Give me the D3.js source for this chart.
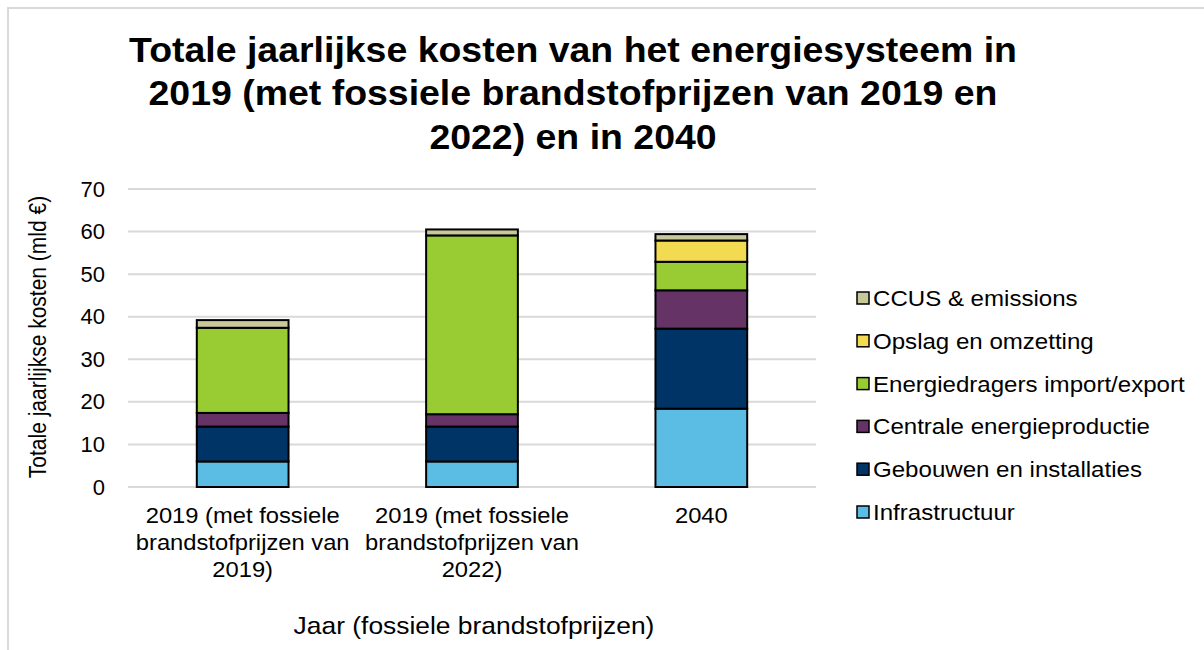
<!DOCTYPE html>
<html>
<head>
<meta charset="utf-8">
<script src="https://cdn.jsdelivr.net/npm/d3@7"></script>
<style>
  html, body { margin: 0; padding: 0; background: #fff; }
  svg { display: block; font-family: "Liberation Sans", Arial, sans-serif; }
</style>
</head>
<body>
<svg id="chart" width="1204" height="650"></svg>
<script>
// Categories (x axis), each split over three label lines
const categories = [
  "2019 (met fossiele brandstofprijzen van 2019)",
  "2019 (met fossiele brandstofprijzen van 2022)",
  "2040"
];
const categoryLines = [
  ["2019 (met fossiele", "brandstofprijzen van", "2019)"],
  ["2019 (met fossiele", "brandstofprijzen van", "2022)"],
  ["2040"]
];

// Stacked series, bottom to top (mld €)
const infrastructuur      = [6.0, 6.0, 18.4];
const gebouwen            = [8.2, 8.2, 18.8];
const centrale            = [3.2, 2.9, 9.0];
const energiedragers      = [20.0, 42.0, 6.7];
const opslag              = [0.0, 0.0, 5.0];
const ccus                = [1.8, 1.4, 1.5];

const seriesNames = [
  "Infrastructuur",
  "Gebouwen en installaties",
  "Centrale energieproductie",
  "Energiedragers import/export",
  "Opslag en omzetting",
  "CCUS & emissions"
];
const seriesColors = ["#5bbde4", "#003366", "#663366", "#99cc33", "#f2db50", "#c8c99a"];
const yTicks = [0, 10, 20, 30, 40, 50, 60, 70];

const titleLines = [
  "Totale jaarlijkse kosten van het energiesysteem in",
  "2019 (met fossiele brandstofprijzen van 2019 en",
  "2022) en in 2040"
];

const seriesValues = [infrastructuur, gebouwen, centrale, energiedragers, opslag, ccus];
const rows = categories.map((c, i) => {
  const r = { category: c };
  seriesNames.forEach((s, k) => { r[s] = seriesValues[k][i]; });
  return r;
});

const svg = d3.select("#chart");

// slightly wide lettering, as in the original export
function wideText(parent, x, y, sx) {
  return parent.append("text")
    .attr("transform", `translate(${x},${y}) scale(${sx},1)`)
    .attr("fill", "#000");
}

// chart frame
svg.append("path")
  .attr("d", "M8,650 V8 H1204")
  .attr("fill", "none")
  .attr("stroke", "#d9d9d9")
  .attr("stroke-width", 2);

const plot = { left: 128, right: 816, top: 189, bottom: 487 };

const x = d3.scaleBand()
  .domain(categories)
  .range([plot.left, plot.right])
  .paddingInner(0.6)
  .paddingOuter(0.3);

const y = d3.scaleLinear()
  .domain([0, 70])
  .range([plot.bottom, plot.top]);

// gridlines
svg.append("g")
  .selectAll("line")
  .data(yTicks)
  .join("line")
  .attr("x1", plot.left)
  .attr("x2", plot.right)
  .attr("y1", d => y(d))
  .attr("y2", d => y(d))
  .attr("stroke", "#d9d9d9")
  .attr("stroke-width", 2);

// y axis labels
const yAxis = svg.append("g")
  .attr("transform", `translate(${plot.left},0)`)
  .call(d3.axisLeft(y).tickValues(yTicks).tickSize(0).tickPadding(23));
yAxis.select(".domain").remove();
yAxis.selectAll("text")
  .attr("font-size", 22)
  .attr("fill", "#000")
  .attr("font-family", "Liberation Sans, Arial, sans-serif");

// stacked bars
const stack = d3.stack().keys(seriesNames);
const stacked = stack(rows);

svg.append("g")
  .selectAll("g")
  .data(stacked)
  .join("g")
  .attr("fill", (d, i) => seriesColors[i])
  .selectAll("rect")
  .data(d => d.filter(p => p[1] - p[0] > 0))
  .join("rect")
  .attr("x", d => x(d.data.category))
  .attr("width", x.bandwidth())
  .attr("y", d => y(d[1]))
  .attr("height", d => y(d[0]) - y(d[1]))
  .attr("stroke", "#000")
  .attr("stroke-width", 2);

// category labels
const xLab = svg.append("g");
categories.forEach((c, i) => {
  const cx = x(c) + x.bandwidth() / 2;
  const t = wideText(xLab, cx, 523, 1.08)
    .attr("text-anchor", "middle")
    .attr("font-size", 22);
  categoryLines[i].forEach((line, j) => {
    t.append("tspan").attr("x", 0).attr("y", j * 27).text(line);
  });
});

// axis titles
wideText(svg, 474, 634, 1.1)
  .attr("text-anchor", "middle")
  .attr("font-size", 24)
  .text("Jaar (fossiele brandstofprijzen)");

svg.append("text")
  .attr("transform", "translate(46,337) rotate(-90) scale(1,1.1)")
  .attr("text-anchor", "middle")
  .attr("font-size", 21)
  .attr("fill", "#000")
  .text("Totale jaarlijkse kosten (mld €)");

// title
const title = wideText(svg, 573, 62, 1.07)
  .attr("text-anchor", "middle")
  .attr("font-size", 35)
  .attr("font-weight", "bold");
titleLines.forEach((line, j) => {
  title.append("tspan").attr("x", 0).attr("y", j * 43.5).text(line);
});

// legend (top entry = top of stack)
const legendItems = seriesNames.map((n, i) => ({ name: n, color: seriesColors[i] })).reverse();
const legend = svg.append("g").attr("transform", "translate(857,0)");
const lg = legend.selectAll("g")
  .data(legendItems)
  .join("g")
  .attr("transform", (d, i) => `translate(0,${299 + i * 42.8})`);
lg.append("rect")
  .attr("x", 0)
  .attr("y", -7)
  .attr("width", 12)
  .attr("height", 12)
  .attr("fill", d => d.color)
  .attr("stroke", "#000")
  .attr("stroke-width", 1.5);
lg.append("text")
  .attr("transform", "translate(16,7) scale(1.095,1)")
  .attr("font-size", 22)
  .attr("fill", "#000")
  .text(d => d.name);
</script>
</body>
</html>
